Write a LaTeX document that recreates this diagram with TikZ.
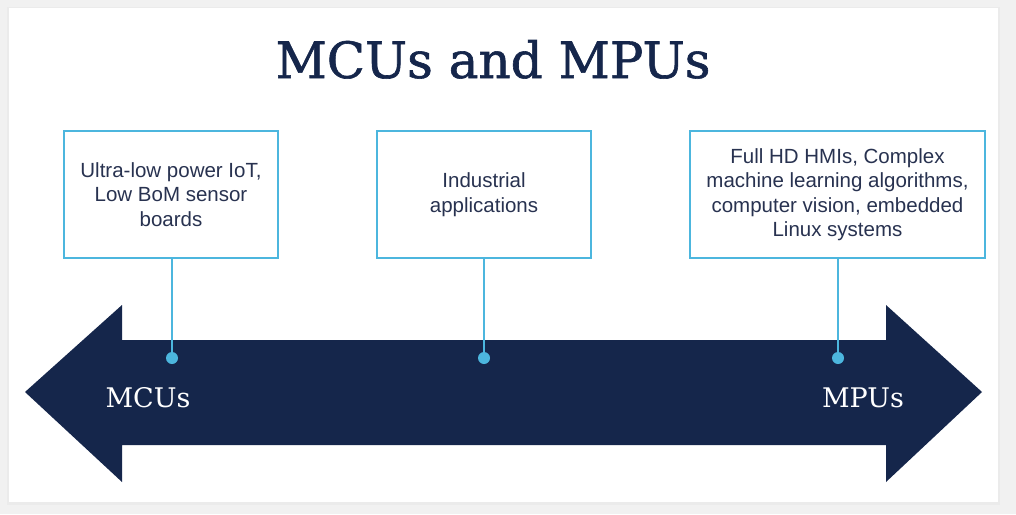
\documentclass[tikz,border=0pt]{standalone}
\usepackage{fontspec}
\setmainfont{Liberation Sans}
\newfontfamily\slabfont{DejaVu Serif}
\newfontfamily\slabtitle[FakeBold=1.2]{DejaVu Serif}
\definecolor{navy}{HTML}{15264B}
\definecolor{skyline}{HTML}{4CB6DE}
\definecolor{boxtext}{HTML}{283250}
\definecolor{bggray}{HTML}{F1F1F1}
\begin{document}
\begin{tikzpicture}[x=1pt,y=-1pt,
  infobox/.style={draw=skyline,line width=1.6pt,fill=white,align=center,text=boxtext,
    font=\fontsize{20.5}{24.5}\selectfont,inner sep=0pt},
  link/.style={draw=skyline,line width=1.6pt},
  dotmark/.style={circle,fill=skyline,inner sep=0pt,minimum size=12pt},
  endlabel/.style={text=white,font=\slabfont\fontsize{27}{30}\selectfont,anchor=base}]
\useasboundingbox (0,0) rectangle (1016,514);
\fill[bggray] (0,0) rectangle (1016,514);
\fill[black!8] (7,7) rectangle (1000,505);
\fill[white] (9,8) rectangle (998,502);
% title
\node[text=navy,font=\slabtitle\fontsize{50}{56}\selectfont,anchor=base] (title) at (493,78) {MCUs and MPUs};
% big double arrow
\fill[navy] (25,392) -- (122,305) -- (122,340) -- (886,340) -- (886,305) -- (982,392)
  -- (886,482) -- (886,445) -- (122,445) -- (122,482) -- cycle;
\node[endlabel] (mcu) at (148,407) {MCUs};
\node[endlabel] (mpu) at (863,407) {MPUs};
% boxes
\node[infobox,minimum width=214pt,minimum height=127pt] (b1) at (171,194.5)
  {Ultra-low power IoT,\\Low BoM sensor\\boards};
\node[infobox,minimum width=214pt,minimum height=127pt] (b2) at (484,194.5)
  {Industrial\\applications};
\node[infobox,minimum width=295pt,minimum height=127pt] (b3) at (837.5,194.5)
  {Full HD HMIs, Complex\\machine learning algorithms,\\computer vision, embedded\\Linux systems};
% dots and links
\node[dotmark] (d1) at (172,358) {};
\node[dotmark] (d2) at (484,358) {};
\node[dotmark] (d3) at (838,358) {};
\draw[link] (b1.south -| d1) -- (d1.center);
\draw[link] (b2.south -| d2) -- (d2.center);
\draw[link] (b3.south -| d3) -- (d3.center);
\end{tikzpicture}
\end{document}
